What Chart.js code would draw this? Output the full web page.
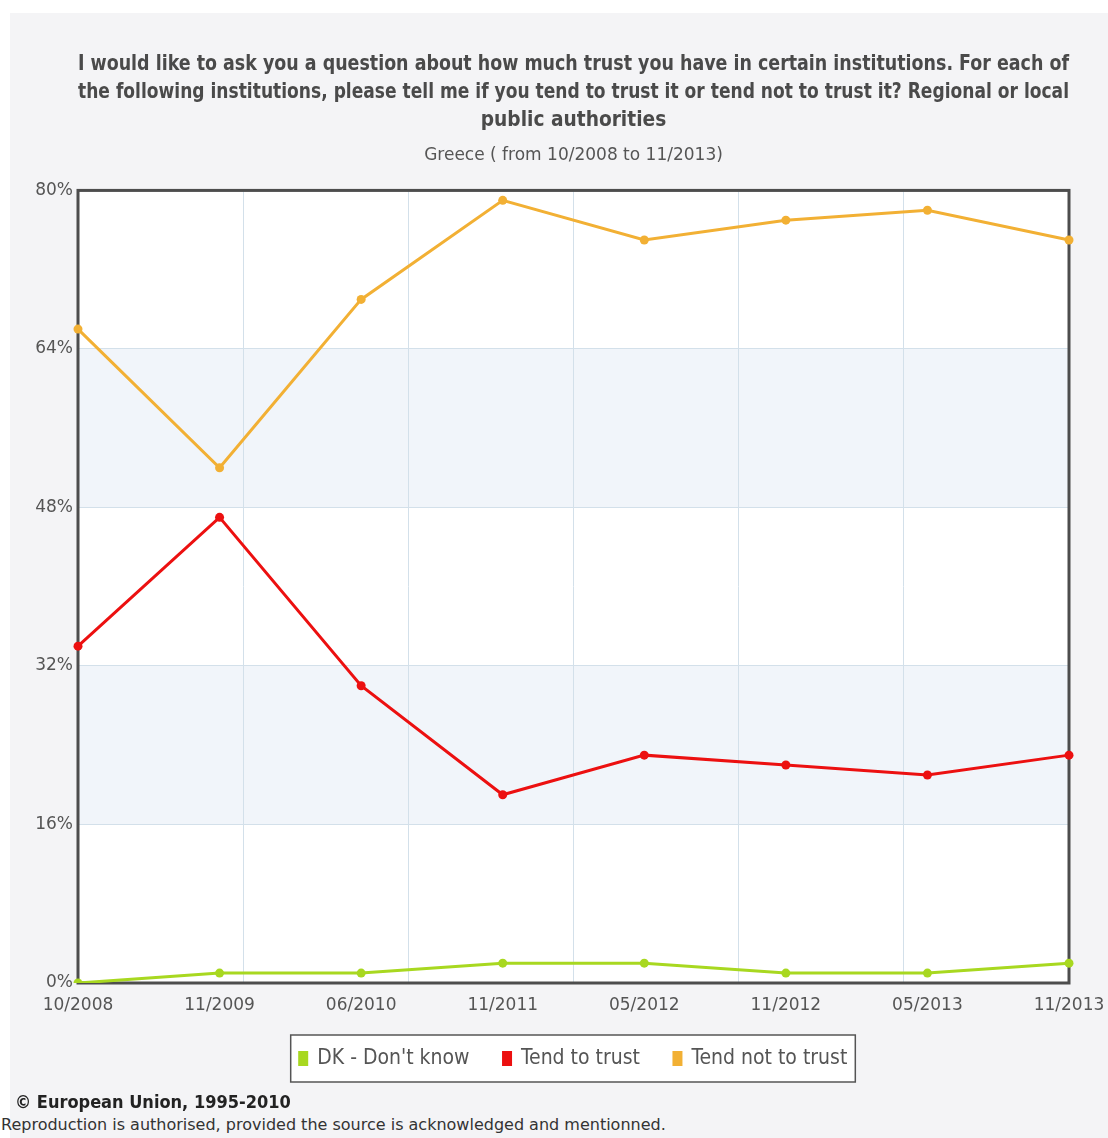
<!DOCTYPE html>
<html lang="en">
<head>
    <meta charset="UTF-8">
    <title>Trust in regional or local public authorities - Greece</title>
    <script src="https://cdn.jsdelivr.net/npm/chart.js"></script>
    <style>
        body { margin: 0; background: #ffffff; }
        #wrap { position: absolute; left: 10px; top: 13px; width: 1098px; height: 1125px; background: #f4f4f6; }
        #chartBox { position: absolute; left: 0; top: 0; width: 1098px; height: 1080px; }
        .copy { position: absolute; left: 15px; top: 1091px; font: bold 18px "Liberation Sans Narrow", "DejaVu Sans Condensed", sans-serif; color: #222; }
        .repro { position: absolute; left: 1px; top: 1115px; font: 16px "DejaVu Sans", sans-serif; color: #333; }
    </style>
</head>
<body>
    <div id="wrap">
        <div id="chartBox"><canvas id="trustChart"></canvas></div>
    </div>
    <div class="copy">© European Union, 1995-2010</div>
    <div class="repro">Reproduction is authorised, provided the source is acknowledged and mentionned.</div>

    <script>
        // survey waves
        const waves = ['10/2008', '11/2009', '06/2010', '11/2011', '05/2012', '11/2012', '05/2013', '11/2013'];
        // answers in %
        const dontKnow = [0, 1, 1, 2, 2, 1, 1, 2];
        const tendTrust = [34, 47, 30, 19, 23, 22, 21, 23];
        const tendNotTrust = [66, 52, 69, 79, 75, 77, 78, 75];
        const yTicks = [0, 16, 32, 48, 64, 80];

        // white plot background with the pale blue bands
        const plotBackground = {
            id: 'plotBackground',
            beforeDraw(chart) {
                const {ctx, chartArea: a, scales: {y}} = chart;
                ctx.save();
                ctx.fillStyle = '#ffffff';
                ctx.fillRect(a.left, a.top, a.width, a.height);
                ctx.fillStyle = '#f1f5fa';
                [[16, 32], [48, 64]].forEach(([lo, hi]) => {
                    const top = y.getPixelForValue(hi);
                    ctx.fillRect(a.left, top, a.width, y.getPixelForValue(lo) - top);
                });
                ctx.restore();
            }
        };

        // dark frame round the plot, under the lines
        const plotFrame = {
            id: 'plotFrame',
            beforeDatasetsDraw(chart) {
                const {ctx, chartArea: a} = chart;
                ctx.save();
                ctx.strokeStyle = '#4d4d4d';
                ctx.lineWidth = 3;
                ctx.strokeRect(a.left, a.top, a.width, a.height);
                ctx.restore();
            }
        };

        // box round the legend items
        const legendBox = {
            id: 'legendBox',
            afterDraw(chart) {
                const boxes = chart.legend.legendHitBoxes;
                if (!boxes || !boxes.length) return;
                const left = Math.min(...boxes.map(b => b.left)) - 9;
                const right = Math.max(...boxes.map(b => b.left + b.width)) + 8;
                const top = Math.min(...boxes.map(b => b.top)) - 13;
                const bottom = Math.max(...boxes.map(b => b.top + b.height)) + 13;
                const {ctx} = chart;
                ctx.save();
                ctx.fillStyle = '#ffffff';
                ctx.globalCompositeOperation = 'destination-over';
                ctx.fillRect(left, top, right - left, bottom - top);
                ctx.globalCompositeOperation = 'source-over';
                ctx.strokeStyle = '#555555';
                ctx.lineWidth = 1.5;
                ctx.strokeRect(left, top, right - left, bottom - top);
                ctx.restore();
            }
        };

        const tickFont = { family: '"DejaVu Sans", sans-serif', size: 17 };

        const ctx = document.getElementById('trustChart').getContext('2d');
        new Chart(ctx, {
            type: 'line',
            data: {
                labels: waves,
                datasets: [
                    { label: 'DK - Don\'t know', data: dontKnow, borderColor: '#a8d820', backgroundColor: '#a8d820' },
                    { label: 'Tend to trust', data: tendTrust, borderColor: '#ec1010', backgroundColor: '#ec1010' },
                    { label: 'Tend not to trust', data: tendNotTrust, borderColor: '#f2b034', backgroundColor: '#f2b034' }
                ]
            },
            options: {
                responsive: true,
                maintainAspectRatio: false,
                animation: false,
                layout: { padding: { left: 0, right: 39, top: 0, bottom: 14 } },
                elements: {
                    line: { borderWidth: 3, tension: 0 },
                    point: { radius: 4.5, borderWidth: 0, hoverRadius: 5 }
                },
                scales: {
                    x: {
                        grid: { display: false, drawTicks: false },
                        border: { display: false },
                        ticks: { color: '#555', font: tickFont, padding: 12, maxRotation: 0, autoSkip: false },
                        // a little tighter than the default so the legend sits closer; keep the right edge free
                        afterFit(scale) { scale.height = 31; scale.paddingRight = 0; }
                    },
                    // only there for the six evenly spaced vertical grid lines
                    xg: {
                        type: 'linear',
                        position: 'top',
                        min: 0,
                        max: 6,
                        ticks: { display: false, stepSize: 1 },
                        grid: { color: '#d3e0ea', drawTicks: false },
                        border: { display: false }
                    },
                    y: {
                        min: 0,
                        max: 80,
                        afterFit(scale) { scale.width = 68; },
                        afterBuildTicks(scale) { scale.ticks = yTicks.map(v => ({ value: v })); },
                        grid: { color: '#d3e0ea', drawTicks: false },
                        border: { display: false },
                        ticks: { color: '#555', font: tickFont, padding: 5, callback: v => v + '%' }
                    }
                },
                plugins: {
                    title: {
                        display: true,
                        fullSize: false,
                        text: [
                            'I would like to ask you a question about how much trust you have in certain institutions. For each of',
                            'the following institutions, please tell me if you tend to trust it or tend not to trust it? Regional or local',
                            'public authorities'
                        ],
                        color: '#4a4a4a',
                        font: { family: '"Liberation Sans Narrow", "DejaVu Sans Condensed", sans-serif', size: 20.7, weight: 'bold', lineHeight: 1.353 },
                        padding: { top: 38, bottom: 10 }
                    },
                    subtitle: {
                        display: true,
                        fullSize: false,
                        text: 'Greece ( from 10/2008 to 11/2013)',
                        color: '#555',
                        font: { family: '"DejaVu Sans", sans-serif', size: 17, lineHeight: 1.2 },
                        padding: { top: 0, bottom: 25 }
                    },
                    legend: {
                        position: 'bottom',
                        fullSize: false,
                        labels: {
                            boxWidth: 7,
                            boxHeight: 12,
                            padding: 34,
                            color: '#555',
                            font: { family: '"DejaVu Sans Condensed", "DejaVu Sans", sans-serif', size: 21 }
                        }
                    },
                    tooltip: { enabled: false }
                }
            },
            plugins: [plotBackground, plotFrame, legendBox]
        });
    </script>
</body>
</html>
